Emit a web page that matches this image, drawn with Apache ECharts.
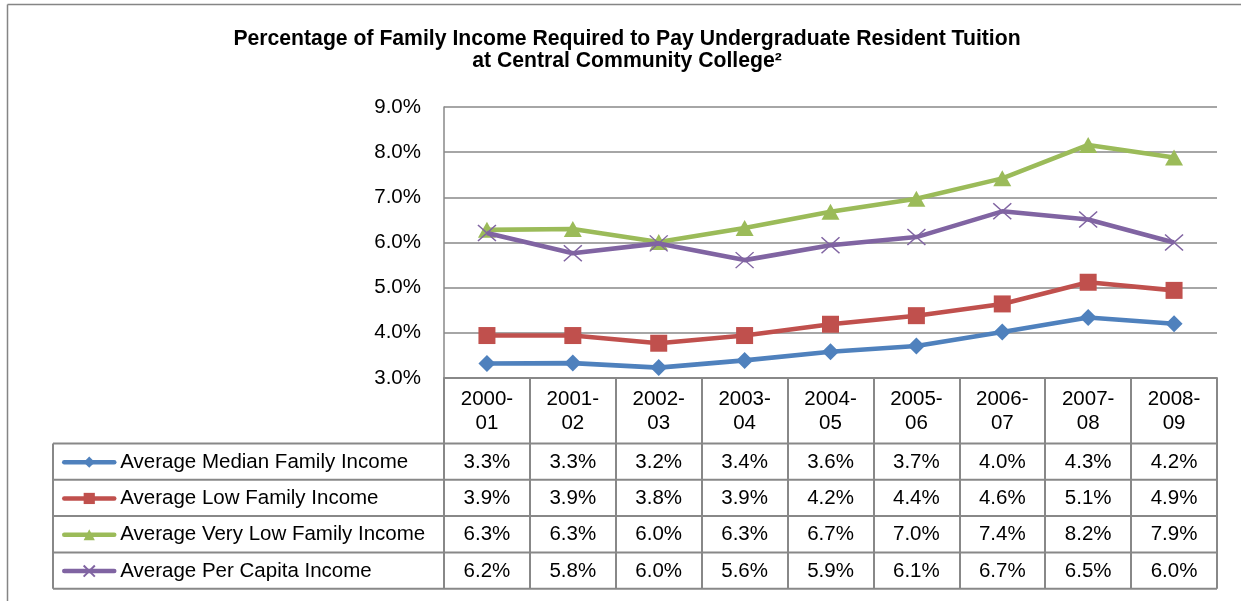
<!DOCTYPE html>
<html><head><meta charset="utf-8">
<script src="https://cdn.jsdelivr.net/npm/echarts@6/dist/echarts.min.js"></script>
<style>html,body{margin:0;padding:0;background:#fff}#c{width:1241px;height:601px}</style>
</head><body><div id="c"></div>
<script>
// ---- data ----
const categories = ['2000-01','2001-02','2002-03','2003-04','2004-05','2005-06','2006-07','2007-08','2008-09'];
const seriesNames = ['Average Median Family Income','Average Low Family Income','Average Very Low Family Income','Average Per Capita Income'];
const medianIncome    = [3.32, 3.33, 3.23, 3.39, 3.58, 3.71, 4.02, 4.34, 4.20];
const lowIncome       = [3.94, 3.94, 3.77, 3.94, 4.19, 4.38, 4.64, 5.12, 4.94];
const veryLowIncome   = [6.28, 6.30, 6.01, 6.32, 6.68, 6.97, 7.42, 8.16, 7.88];
const perCapitaIncome = [6.21, 5.76, 5.98, 5.61, 5.94, 6.12, 6.69, 6.51, 6.00];
const yMin = 3, yMax = 9, yStep = 1;
const titleLines = ['Percentage of Family Income Required to Pay Undergraduate Resident Tuition', 'at Central Community College\u00B2'];

// ---- styling ----
const FONT = '"Liberation Sans", Arial, sans-serif';
const FS = 20.5;
const GRIDC = '#888888';
const colors = ['#4F81BD', '#C0504D', '#9BBB59', '#8064A2'];
const symbols = ['diamond', 'rect', 'triangle', 'path://M0,0L16,16M16,0L0,16'];
const symbolSizes = [[17,17], [17,17], [18,16], [18,16]];
const allValues = [medianIncome, lowIncome, veryLowIncome, perCapitaIncome];

const HEADER_H = 65.5, ROW_H = 36.3, TABLE_LEFT = 53;

const chart = echarts.init(document.getElementById('c'), null, {renderer: 'canvas'});

const series = allValues.map((vals, i) => ({
  name: seriesNames[i],
  type: 'line',
  data: vals,
  symbol: symbols[i],
  symbolSize: symbolSizes[i],
  showAllSymbol: true,
  lineStyle: {color: colors[i], width: 4.6},
  itemStyle: i === 3
    ? {color: colors[i], borderColor: colors[i], borderWidth: 1.4}
    : {color: colors[i]},
  emphasis: {disabled: true},
  z: 3 + i
}));

// legend rows (positioned inside the data table's first column)
const gridBottomPx = 378;
const legends = seriesNames.map((n, i) => ({
  data: [n],
  left: 62,
  top: gridBottomPx + HEADER_H + ROW_H * i + ROW_H / 2 - 7 - 3,
  padding: 0,
  itemWidth: 50,
  itemHeight: 14,
  selectedMode: false,
  lineStyle: {width: 4.5, cap: 'round'},
  textStyle: {fontFamily: FONT, fontSize: FS, color: '#000', padding: [0, 0, 0, 1]}
}));

chart.setOption({
  animation: false,
  backgroundColor: '#fff',
  title: {
    text: titleLines.join('\n'),
    left: 627,
    textAlign: 'center',
    top: 28,
    padding: 0,
    textStyle: {fontFamily: FONT, fontSize: 21.2, fontWeight: 'bold', color: '#000', lineHeight: 22}
  },
  legend: legends,
  grid: {left: 444, right: 24, top: 107, bottom: 601 - gridBottomPx, containLabel: false, outerBoundsMode: 'none'},
  xAxis: {
    type: 'category',
    data: categories,
    boundaryGap: true,
    axisLine: {show: true, lineStyle: {color: GRIDC, width: 2}},
    axisTick: {show: true, interval: 0, inside: false, length: HEADER_H + 4 * ROW_H, lineStyle: {color: GRIDC, width: 2}},
    axisLabel: {
      interval: 0, margin: 9, fontFamily: FONT, fontSize: FS, lineHeight: 24, color: '#000',
      formatter: v => v.replace('-', '-\n')
    }
  },
  yAxis: {
    type: 'value',
    min: yMin, max: yMax, interval: yStep,
    axisLine: {show: true, lineStyle: {color: GRIDC, width: 1.5}},
    axisTick: {show: false},
    splitLine: {show: true, lineStyle: {color: GRIDC, width: 1.5}},
    axisLabel: {margin: 23, fontFamily: FONT, fontSize: FS, color: '#000', formatter: v => v.toFixed(1) + '%'}
  },
  series: series
});

// ---- data table (values come from the series arrays, positions from the axes) ----
function buildTable() {
  const xs = categories.map(c => chart.convertToPixel({xAxisIndex: 0}, c));
  const band = xs[1] - xs[0];
  const plotRight = xs[xs.length - 1] + band / 2;
  const base = chart.convertToPixel({yAxisIndex: 0}, yMin);
  const rowsTop = base + HEADER_H;
  const g = [];
  // outer frame
  g.push({type: 'line', shape: {x1: 7.5, y1: 4.5, x2: 1241, y2: 4.5}, style: {stroke: '#858585', lineWidth: 1.5}, silent: true});
  g.push({type: 'line', shape: {x1: 7.5, y1: 4.5, x2: 7.5, y2: 601}, style: {stroke: '#858585', lineWidth: 1.5}, silent: true});
  // horizontal table lines
  for (let k = 0; k <= allValues.length; k++) {
    const y = rowsTop + k * ROW_H;
    g.push({type: 'line', shape: {x1: TABLE_LEFT, y1: y, x2: plotRight, y2: y}, style: {stroke: GRIDC, lineWidth: 2}, silent: true});
  }
  // left edge of table
  g.push({type: 'line', shape: {x1: TABLE_LEFT, y1: rowsTop, x2: TABLE_LEFT, y2: rowsTop + allValues.length * ROW_H}, style: {stroke: GRIDC, lineWidth: 2}, silent: true});
  // values
  allValues.forEach((vals, r) => {
    vals.forEach((v, i) => {
      g.push({
        type: 'text', silent: true,
        x: xs[i], y: rowsTop + r * ROW_H + ROW_H / 2 + 0.5,
        style: {text: v.toFixed(1) + '%', fontFamily: FONT, fontSize: FS, fill: '#000', align: 'center', verticalAlign: 'middle'}
      });
    });
  });
  chart.setOption({graphic: g});
}
buildTable();
</script>
</body></html>
